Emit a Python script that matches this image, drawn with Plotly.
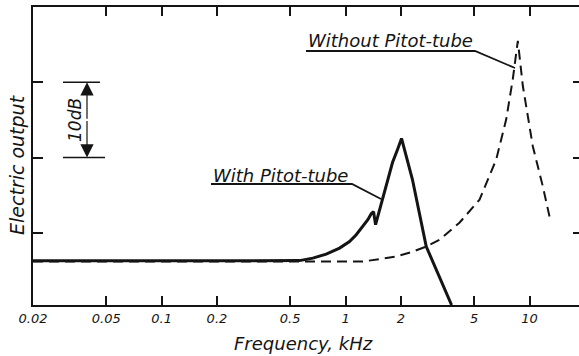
import numpy as np
import plotly.graph_objects as go

# ---- data ----
freq_with = [0.02, 0.496, 0.562, 0.664, 0.785, 0.928, 1.051, 1.143, 1.242, 1.322, 1.379, 1.42, 1.456,
             1.53, 1.589, 1.80, 1.917, 2.015, 2.31, 2.746, 3.77]
db_with   = [6.27, 6.27, 6.3, 6.63, 7.16, 7.96, 8.84, 9.73, 10.84, 11.73, 12.53, 12.8, 11.07,
             13.07, 14.67, 19.33, 21.07, 22.53, 17.07, 8.17, 0.4]

freq_without = [0.02, 0.662, 1.237, 1.886, 2.31, 2.746, 3.24, 4.16, 4.72, 5.35, 6.59, 7.47, 8.11, 8.64,
                9.2, 10.42, 11.81, 12.84]
db_without   = [6.17, 6.17, 6.17, 6.84, 7.47, 8.17, 9.07, 11.33, 12.93, 14.4, 19.73, 25.07, 30.4, 35.5,
                29.5, 21.5, 16.17, 12.17]

x_tickvals = [0.02, 0.05, 0.1, 0.2, 0.5, 1, 2, 5, 10]
x_ticktext = ["0.02", "0.05", "0.1", "0.2", "0.5", "1", "2", "5", "10"]
y_tickvals = [10, 20, 30]

INK = "#141414"
FONT = "DejaVu Sans"

fig = go.Figure()
fig.add_trace(go.Scatter(x=freq_without, y=db_without, mode="lines",
                         line=dict(color=INK, width=2, dash="10px,6px"),
                         showlegend=False, hoverinfo="skip"))
fig.add_trace(go.Scatter(x=freq_with, y=db_with, mode="lines",
                         line=dict(color=INK, width=3),
                         showlegend=False, hoverinfo="skip"))
# dummy trace for right-hand tick axis
fig.add_trace(go.Scatter(x=[0.02], y=[None], yaxis="y2", showlegend=False, hoverinfo="skip"))

fig.update_layout(
    width=579, height=356,
    margin=dict(l=33, r=0, t=7, b=51),
    paper_bgcolor="white", plot_bgcolor="white",
    font=dict(family=FONT, color=INK, size=13),
    xaxis=dict(type="log", range=[np.log10(0.02), 1.269],
               tickvals=x_tickvals, ticktext=x_ticktext,
               ticks="inside", ticklen=9, tickwidth=2, tickcolor=INK,
               showline=True, linewidth=2, linecolor=INK, mirror="ticks",
               showgrid=False, zeroline=False,
               tickfont=dict(family=FONT, size=13, style="italic", color=INK)),
    yaxis=dict(range=[0.4, 40], tickvals=y_tickvals, showticklabels=False,
               ticks="inside", ticklen=10, tickwidth=2, tickcolor=INK,
               showline=True, linewidth=2, linecolor=INK, mirror=False,
               showgrid=False, zeroline=False),
    yaxis2=dict(range=[0.4, 40], tickvals=y_tickvals, showticklabels=False,
                overlaying="y", side="right",
                ticks="inside", ticklen=6, tickwidth=2, tickcolor=INK,
                showline=False, showgrid=False, zeroline=False),
)

def px2paper(px, py):
    return (px - 33) / 546.0, (305 - py) / 298.0

shapes = []
# 10 dB bracket
xa, _ = px2paper(63, 0)
xb, _ = px2paper(100, 0)
xc, _ = px2paper(105, 0)
shapes.append(dict(type="line", xref="paper", yref="y", x0=xa, x1=xb, y0=30, y1=30, line=dict(color=INK, width=1.3)))
shapes.append(dict(type="line", xref="paper", yref="y", x0=xa, x1=xc, y0=20, y1=20, line=dict(color=INK, width=1.3)))

def path_px(points):
    s = []
    for i, (px, py) in enumerate(points):
        x, y = px2paper(px, py)
        s.append(("M" if i == 0 else "L") + f" {x:.4f},{y:.4f}")
    return " ".join(s)

shapes.append(dict(type="path", xref="paper", yref="paper",
                   path=path_px([(211, 184), (352, 184), (381, 199)]),
                   line=dict(color=INK, width=1.8)))
shapes.append(dict(type="path", xref="paper", yref="paper",
                   path=path_px([(306, 51), (475, 51), (515, 68)]),
                   line=dict(color=INK, width=1.8)))
fig.update_layout(shapes=shapes)

xarrow, _ = px2paper(87, 0)
ann = []
ann.append(dict(x=xarrow, y=30, xref="paper", yref="y", ax=0, ay=38, axref="pixel", ayref="pixel",
                text="", showarrow=True, arrowhead=2, arrowsize=2.2, arrowwidth=1.2, arrowcolor=INK))
ann.append(dict(x=xarrow, y=20, xref="paper", yref="y", ax=0, ay=-38, axref="pixel", ayref="pixel",
                text="", showarrow=True, arrowhead=2, arrowsize=2.2, arrowwidth=1.2, arrowcolor=INK))

def text_ann(txt, px, py, size, angle=0, xanchor="center"):
    x, y = px2paper(px, py)
    return dict(x=x, y=y, xref="paper", yref="paper", text=txt, showarrow=False,
                xanchor=xanchor, yanchor="middle", textangle=angle,
                font=dict(family=FONT, size=size, style="italic", color=INK))

ann.append(text_ann("10dB", 75, 120, 17, angle=-90))
ann.append(text_ann("With Pitot-tube", 211, 175, 18, xanchor="left"))
ann.append(text_ann("Without Pitot-tube", 306, 40, 18, xanchor="left"))
ann.append(text_ann("Electric output", 17, 165, 19, angle=-90))
ann.append(text_ann("Frequency, kHz", 303, 343, 18))
fig.update_layout(annotations=ann)

fig.write_html("out.html")
